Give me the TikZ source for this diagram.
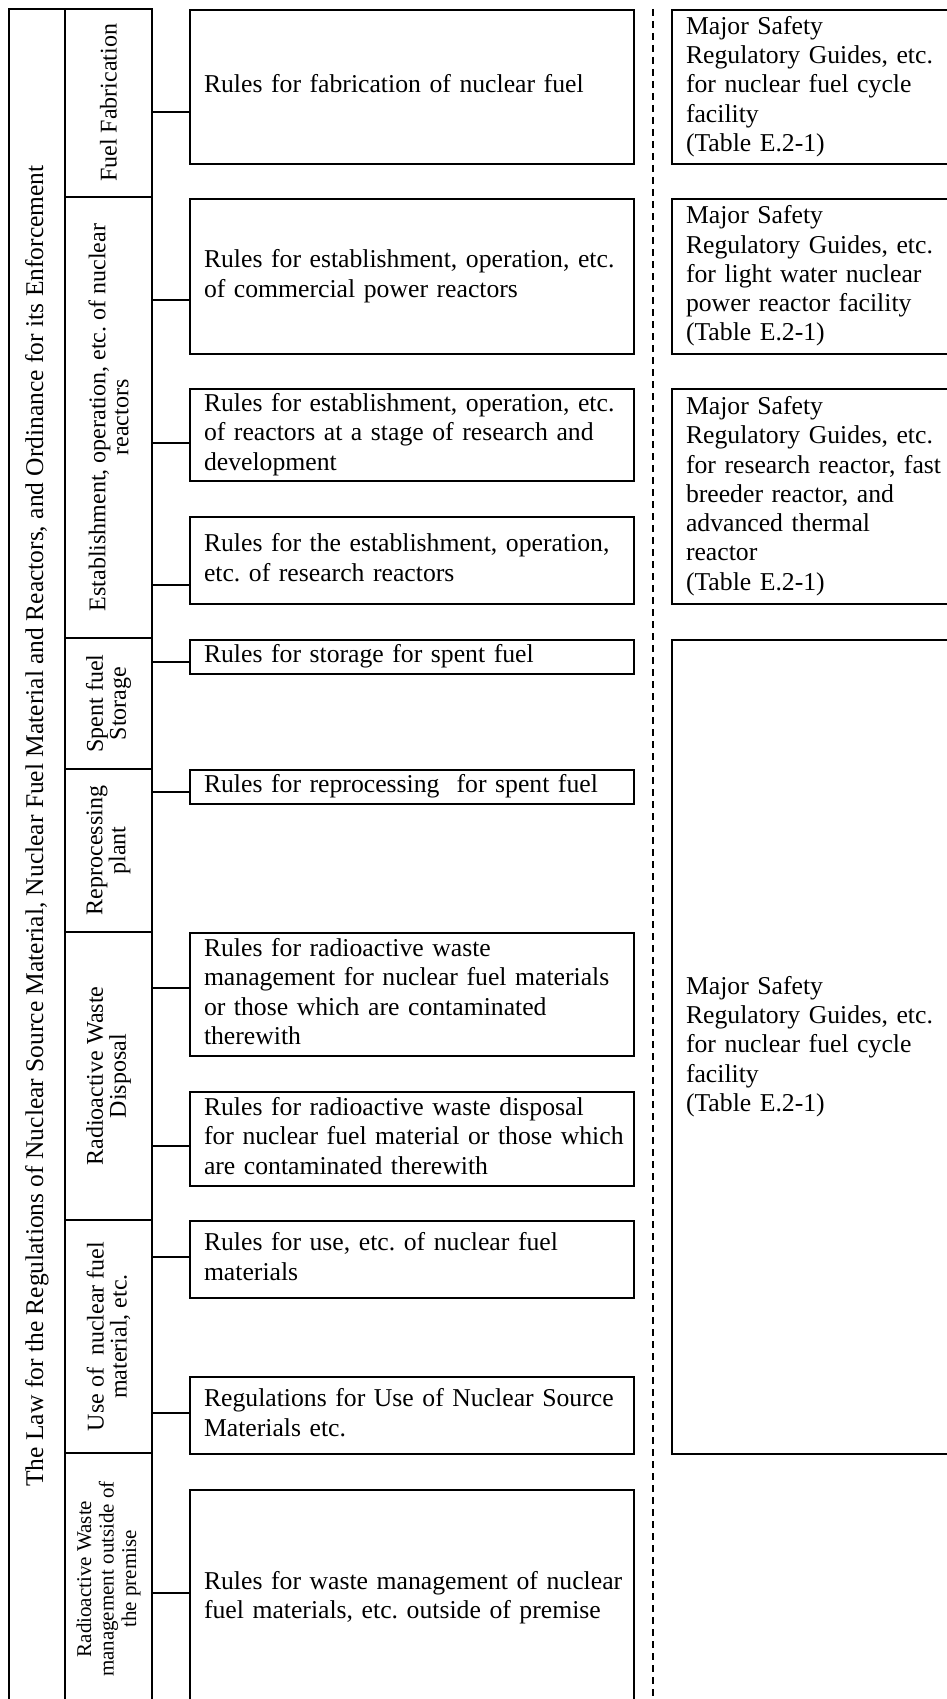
\documentclass[tikz,border=0pt]{standalone}
\usepackage{fontspec}
\setmainfont{Liberation Serif}
\newcommand\boxtextfont{\fontsize{25.7}{29.3}\selectfont}
\newcommand\celltextfont{\fontsize{24}{23}\selectfont}
\newcommand\smallcelltextfont{\fontsize{21}{22.5}\selectfont}
\newcommand\lawtextfont{\fontsize{25.5}{28}\selectfont}
% lines of a box, broken only where written
\newcommand\boxlines[1]{\begin{tabular}{@{}l@{}}#1\end{tabular}}
\begin{document}
\frenchspacing
\begin{tikzpicture}[x=1pt,y=-1pt,
  frame/.style={line width=2pt},
  conn/.style={line width=1.5pt},
  divider/.style={line width=1.5pt, dash pattern=on 7pt off 5pt},
  rulebox/.style={draw, line width=2pt, anchor=north west, minimum width=444pt,
    text width=416pt, inner xsep=14pt, inner ysep=0pt, align=left, font=\boxtextfont},
  guidebox/.style={draw, line width=2pt, anchor=north west,
    text width=300pt, inner xsep=14pt, inner ysep=0pt, align=left, font=\boxtextfont},
  cell/.style={draw, line width=2pt, rotate=90, minimum height=87pt,
    inner sep=0pt, align=center, font=\celltextfont},
]
\path[use as bounding box] (0,0) rectangle (947,1699);
\clip (0,0) rectangle (947,1699);

% outer frame of the law column and the spine
\draw[frame] (9,1710) -- (9,9) -- (152,9) -- (152,1710);
\node[rotate=90, font=\lawtextfont, inner sep=0pt] (law) at (37,826)
  {The Law for the Regulations of Nuclear Source Material, Nuclear Fuel Material and Reactors, and Ordinance for its Enforcement};

% category cells
\node[cell, minimum width=188pt] (c1) at (108.5,103) {Fuel Fabrication};
\node[cell, minimum width=441pt] (c2) at (108.5,417.5) {Establishment, operation, etc. of nuclear\\reactors};
\node[cell, minimum width=131pt] (c3) at (108.5,703.5) {Spent fuel\\Storage};
\node[cell, minimum width=163pt] (c4) at (108.5,850.5) {Reprocessing\\plant};
\node[cell, minimum width=288pt] (c5) at (108.5,1076) {Radioactive Waste\\Disposal};
\node[cell, minimum width=233pt] (c6) at (108.5,1336.5) {Use of\ \ nuclear fuel\\material, etc.};
\node[cell, minimum width=252pt, font=\smallcelltextfont] (c7) at (108.5,1579) {Radioactive Waste\\management outside of\\the premise};

% rules boxes
\node[rulebox, minimum height=154pt] (r1) at (189,9) {\boxlines{Rules for fabrication of nuclear fuel}};
\node[rulebox, minimum height=155pt] (r2) at (189,198) {\boxlines{Rules for establishment, operation, etc.\\of commercial power reactors}};
\node[rulebox, minimum height=92pt] (r3) at (189,388) {\boxlines{Rules for establishment, operation, etc.\\of reactors at a stage of research and\\development}};
\node[rulebox, minimum height=87pt] (r4) at (189,516) {\boxlines{Rules for the establishment, operation,\\etc. of research reactors}};
\node[rulebox, minimum height=34pt] (r5) at (189,639) {\boxlines{Rules for storage for spent fuel}};
\node[rulebox, minimum height=34pt] (r6) at (189,769) {\boxlines{Rules for reprocessing\ \ for spent fuel}};
\node[rulebox, minimum height=123pt] (r7) at (189,932) {\boxlines{Rules for radioactive waste\\management for nuclear fuel materials\\or those which are contaminated\\therewith}};
\node[rulebox, minimum height=94pt] (r8) at (189,1091) {\boxlines{Rules for radioactive waste disposal\\for nuclear fuel material or those which\\are contaminated therewith}};
\node[rulebox, minimum height=77pt] (r9) at (189,1220) {\boxlines{Rules for use, etc. of nuclear fuel\\materials}};
\node[rulebox, minimum height=77pt] (r10) at (189,1376) {\boxlines{Regulations for Use of Nuclear Source\\Materials etc.}};
\node[rulebox, minimum height=216pt] (r11) at (189,1489) {\boxlines{Rules for waste management of nuclear\\fuel materials, etc. outside of premise}};

% branches from the spine
\foreach \n/\y in {r1/112, r2/300, r3/443, r4/585, r5/662, r6/792, r7/988, r8/1146, r9/1257, r10/1413, r11/1593}{
  \coordinate (k\n) at (152,\y);
  \draw[conn] (k\n) -- (k\n -| \n.west);
}

% dashed divider
\coordinate (dtop) at (653,9);
\coordinate (dbot) at (653,1710);
\draw[divider] (dtop) -- (dbot);

% safety guide boxes
\node[guidebox, minimum height=154pt] (g1) at (671,9) {\boxlines{Major Safety\\Regulatory Guides, etc.\\for nuclear fuel cycle\\facility\\(Table E.2-1)}};
\node[guidebox, minimum height=155pt] (g2) at (671,198) {\boxlines{Major Safety\\Regulatory Guides, etc.\\for light water nuclear\\power reactor facility\\(Table E.2-1)}};
\node[guidebox, minimum height=215pt] (g3) at (671,388) {\boxlines{Major Safety\\Regulatory Guides, etc.\\for research reactor, fast\\breeder reactor, and\\advanced thermal\\reactor\\(Table E.2-1)}};
\node[guidebox, minimum height=814pt] (g4) at (671,639) {\boxlines{Major Safety\\Regulatory Guides, etc.\\for nuclear fuel cycle\\facility\\(Table E.2-1)}};
\end{tikzpicture}
\end{document}
